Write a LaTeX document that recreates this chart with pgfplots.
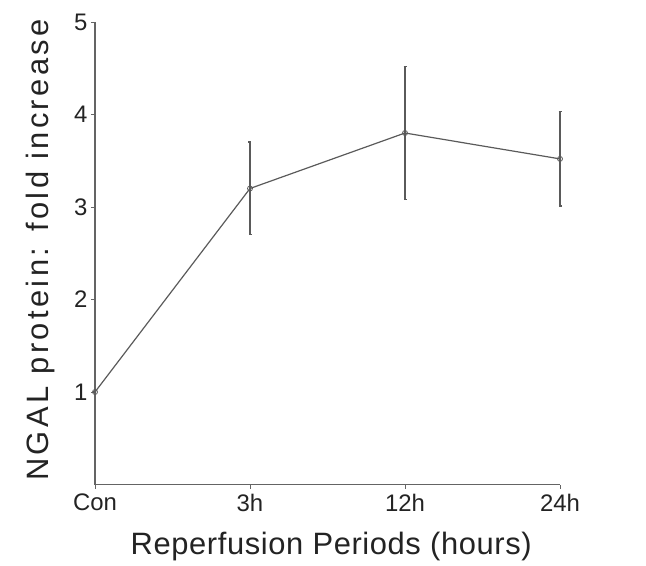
\documentclass[border=0pt]{standalone}
\usepackage{pgfplots}
\pgfplotsset{compat=1.18}
\usepackage{fontspec}
\setmainfont{Liberation Sans}
\definecolor{axgray}{RGB}{100,100,100}
\definecolor{lngray}{RGB}{90,90,90}
\definecolor{txtgray}{RGB}{35,35,35}
\begin{document}
\begin{tikzpicture}
\begin{axis}[
  name=ax,
  scale only axis,
  width=465bp, height=462.5bp,
  xmin=0, xmax=3, ymin=0, ymax=5,
  axis lines=left,
  axis line style={axgray, line width=1.8pt, -},
  xtick={0,1,2,3},
  xticklabels={Con,3h,12h,24h},
  ytick={1,2,3,4,5},
  tick style={axgray, line width=0.8pt},
  major tick length=4bp,
  tick align=outside,
  x tick label style={font=\fontsize{24}{24}\selectfont, text=txtgray, yshift=-2bp},
  y tick label style={font=\fontsize{24}{24}\selectfont, text=txtgray},
  /pgf/number format/assume math mode=true,
  xlabel={Reperfusion Periods (hours)},
  ylabel={NGAL protein: fold increase},
  xlabel style={font=\fontsize{31}{31}\selectfont\addfontfeatures{LetterSpace=2}, text=txtgray, at={(axis description cs:0.508,0)}, anchor=center, yshift=-62bp},
  ylabel style={font=\fontsize{31}{31}\selectfont\addfontfeatures{LetterSpace=11}, text=txtgray, at={(axis description cs:0,0.507)}, anchor=center, yshift=54bp},
  clip=false,
]
\addplot[lngray, line width=1.2pt, mark=o, mark size=2.5bp, mark options={line width=0.8pt},
  error bars/.cd, y dir=both, y explicit,
  error bar style={lngray, line width=1.5pt},
  error mark options={rotate=90, mark size=1.5bp, line width=1.5pt, lngray}]
coordinates {
  (0,1.0) +- (0,0)
  (1,3.2) +- (0,0.5)
  (2,3.8) +- (0,0.72)
  (3,3.52) +- (0,0.51)
};
\end{axis}
\pgfresetboundingbox
\path[use as bounding box] ([shift={(-95bp,-81.5bp)}]ax.south west) rectangle ([shift={(551bp,484.5bp)}]ax.south west);
\end{tikzpicture}
\end{document}
